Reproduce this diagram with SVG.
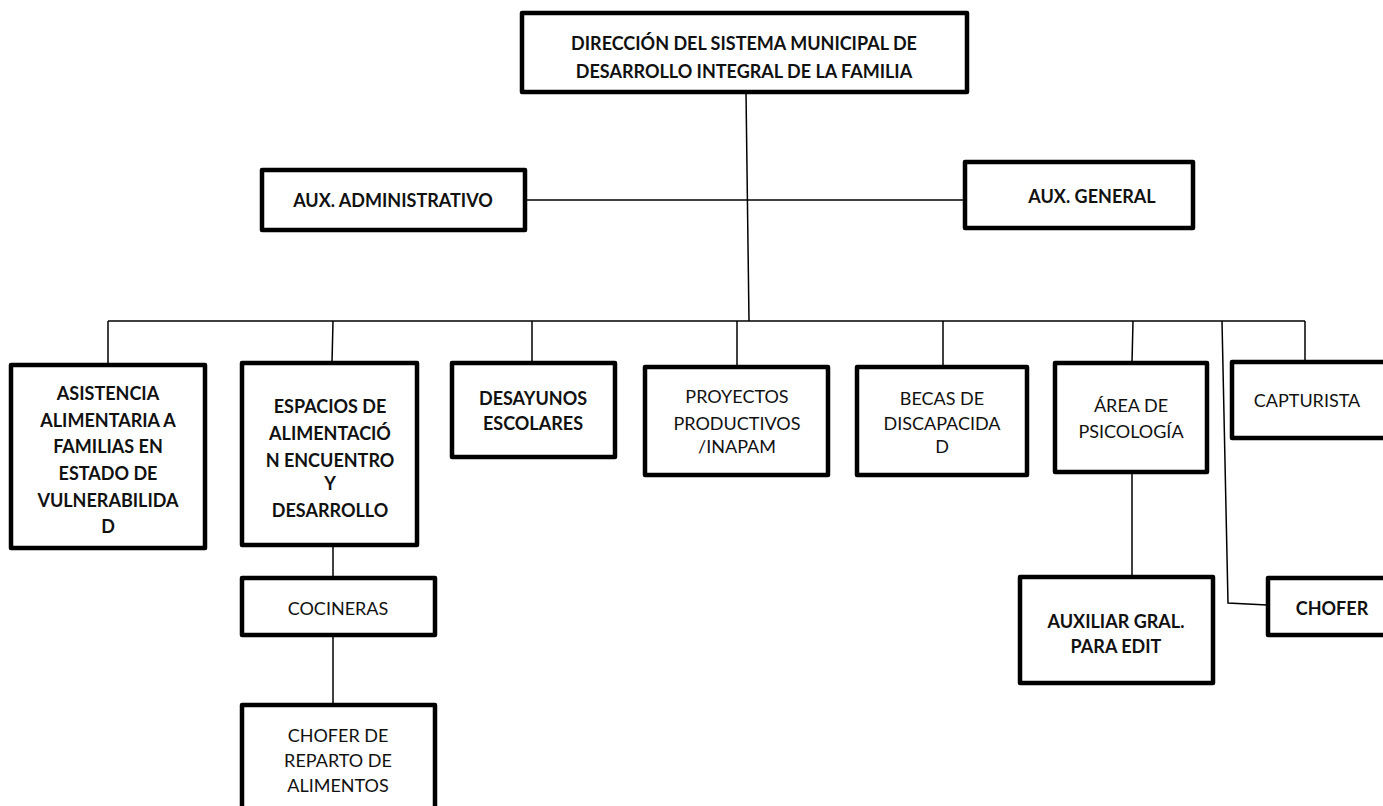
<svg xmlns="http://www.w3.org/2000/svg" width="1383" height="806" viewBox="0 0 1383 806">
<style>
.box{fill:#fff;stroke:#000;stroke-width:4.5;stroke-linejoin:round}
.ln{fill:none;stroke:#000;stroke-width:1.5}
text{font-family:Lato,"Liberation Sans",sans-serif;font-size:18px;fill:#111;text-anchor:middle}
.b{font-weight:bold}
</style>
<rect width="1383" height="806" fill="#fff"/>
<g id="connectors">
<line class="ln" x1="746" y1="92" x2="749" y2="321"/>
<line class="ln" x1="525" y1="200" x2="965" y2="200"/>
<line class="ln" x1="108" y1="321" x2="1305" y2="321"/>
<line class="ln" x1="108" y1="321" x2="108" y2="365"/>
<line class="ln" x1="333" y1="321" x2="332" y2="363"/>
<line class="ln" x1="532" y1="321" x2="532" y2="363"/>
<line class="ln" x1="737" y1="321" x2="737" y2="367"/>
<line class="ln" x1="943" y1="321" x2="943" y2="367"/>
<line class="ln" x1="1133" y1="321" x2="1132" y2="363"/>
<line class="ln" x1="1305" y1="321" x2="1305" y2="362"/>
<polyline class="ln" points="1222,321 1228,603 1267,605"/>
<line class="ln" x1="1132" y1="472" x2="1132" y2="577"/>
<line class="ln" x1="333" y1="545" x2="333" y2="578"/>
<line class="ln" x1="333" y1="635" x2="333" y2="705"/>
</g>
<g id="n-direccion"><rect class="box" x="522" y="13" width="445" height="79"/>
<text class="b" x="744" y="50">DIRECCIÓN DEL SISTEMA MUNICIPAL DE</text>
<text class="b" x="744" y="78">DESARROLLO INTEGRAL DE LA FAMILIA</text></g>
<g id="n-auxadmin"><rect class="box" x="262" y="170" width="263" height="60"/>
<text class="b" x="393" y="207">AUX. ADMINISTRATIVO</text></g>
<g id="n-auxgeneral"><rect class="box" x="965" y="162" width="228" height="66"/>
<text class="b" x="1092" y="203">AUX. GENERAL</text></g>
<g id="n-asistencia"><rect class="box" x="11" y="365" width="194" height="183"/>
<text class="b" x="108" y="400">ASISTENCIA</text>
<text class="b" x="108" y="427">ALIMENTARIA A</text>
<text class="b" x="108" y="453">FAMILIAS EN</text>
<text class="b" x="108" y="480">ESTADO DE</text>
<text class="b" x="108" y="507">VULNERABILIDA</text>
<text class="b" x="108" y="533">D</text></g>
<g id="n-espacios"><rect class="box" x="242" y="363" width="175" height="182"/>
<text class="b" x="330" y="413">ESPACIOS DE</text>
<text class="b" x="330" y="440">ALIMENTACIÓ</text>
<text class="b" x="330" y="467">N ENCUENTRO</text>
<text class="b" x="330" y="490">Y</text>
<text class="b" x="330" y="517">DESARROLLO</text></g>
<g id="n-desayunos"><rect class="box" x="452" y="363" width="163" height="94"/>
<text class="b" x="533" y="405">DESAYUNOS</text>
<text class="b" x="533" y="430">ESCOLARES</text></g>
<g id="n-proyectos"><rect class="box" x="645" y="367" width="183" height="108"/>
<text x="737" y="403">PROYECTOS</text>
<text x="737" y="430">PRODUCTIVOS</text>
<text x="737" y="453">/INAPAM</text></g>
<g id="n-becas"><rect class="box" x="857" y="367" width="170" height="108"/>
<text x="942" y="405">BECAS DE</text>
<text x="942" y="430">DISCAPACIDA</text>
<text x="942" y="453">D</text></g>
<g id="n-psicologia"><rect class="box" x="1055" y="363" width="152" height="109"/>
<text x="1131" y="412">ÁREA DE</text>
<text x="1131" y="438">PSICOLOGÍA</text></g>
<g id="n-capturista"><rect class="box" x="1232" y="362" width="155" height="76"/>
<text x="1307" y="407">CAPTURISTA</text></g>
<g id="n-auxiliar"><rect class="box" x="1020" y="577" width="193" height="106"/>
<text class="b" x="1116" y="628">AUXILIAR GRAL.</text>
<text class="b" x="1116" y="653">PARA EDIT</text></g>
<g id="n-chofer"><rect class="box" x="1268" y="578" width="119" height="57"/>
<text class="b" x="1332" y="615">CHOFER</text></g>
<g id="n-cocineras"><rect class="box" x="242" y="578" width="193" height="57"/>
<text x="338" y="615">COCINERAS</text></g>
<g id="n-chofer-reparto"><rect class="box" x="242" y="705" width="193" height="110"/>
<text x="338" y="742">CHOFER DE</text>
<text x="338" y="767">REPARTO DE</text>
<text x="338" y="792">ALIMENTOS</text></g>
</svg>
